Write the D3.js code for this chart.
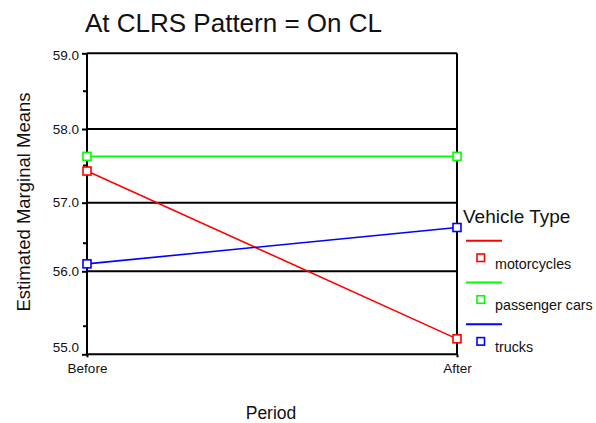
<!DOCTYPE html>
<html><head><meta charset="utf-8">
<script src="https://cdn.jsdelivr.net/npm/d3@7"></script>
<style>body{margin:0;background:#fff}svg{display:block;font-family:"Liberation Sans",Arial,sans-serif}</style>
</head><body>
<script>
const periods = ["Before", "After"];
const vehicleTypes = ["motorcycles", "passenger cars", "trucks"];
const motorcycles = [57.42, 55.27];
const passengerCars = [57.62, 57.62];
const trucks = [56.13, 56.69];
const colors = ["#ff0000", "#00ff00", "#0000ff"];
const majorTicks = [55, 56, 57, 58, 59];
const minorTicks = [55.5, 56.5, 57.5, 58.5];
const title = "At CLRS Pattern = On CL";
const yTitle = "Estimated Marginal Means";
const xTitle = "Period";
const legendTitle = "Vehicle Type";

const series = [motorcycles, passengerCars, trucks];
const FONT = "'Liberation Sans', Arial, sans-serif";

const W = 596, H = 423;
const svg = d3.select("body").append("svg").attr("width", W).attr("height", H);

const x = d3.scalePoint().domain(periods).range([87, 457]);
// axis as drawn in the reference is not evenly spaced: piecewise-linear scale
const y = d3.scaleLinear()
  .domain([55, 55.5, 56, 56.5, 57, 57.5, 58, 58.5, 59])
  .range([354.3, 325.7, 271.3, 242.7, 202.7, 165, 129, 90.7, 53.3]);

// title
svg.append("text").attr("x", 85).attr("y", 31.5).attr("font-size", 26).attr("fill", "#111").text(title);

// gridlines
svg.append("g").selectAll("line").data(majorTicks.slice(1)).join("line")
  .attr("x1", 87).attr("x2", 457).attr("y1", d => y(d)).attr("y2", d => y(d))
  .attr("stroke", "#000").attr("stroke-width", 2);

// right border
svg.append("line").attr("x1", 457).attr("x2", 457).attr("y1", y(59)).attr("y2", y(55))
  .attr("stroke", "#000").attr("stroke-width", 2);

// left axis
const yAxis = d3.axisLeft(y).tickValues(majorTicks).tickFormat(d3.format(".1f")).tickSize(5).tickPadding(3);
const gy = svg.append("g").attr("transform", "translate(87,0)").call(yAxis);
gy.attr("font-family", FONT);
gy.select(".domain").attr("stroke-width", 2).attr("d", `M0,${y(59)}V${y(55)+1}`);
gy.selectAll(".tick line").attr("stroke-width", 2);
gy.selectAll(".tick text").attr("font-size", 13.5).attr("fill", "#111")
  .attr("dy", d => d === 55 ? "-0.18em" : (d === 59 ? "0.45em" : "0.3em"));
const gyMinor = d3.axisLeft(y).tickValues(minorTicks).tickFormat("").tickSize(4);
const gm = svg.append("g").attr("transform", "translate(87,0)").call(gyMinor);
gm.select(".domain").remove();
gm.selectAll(".tick line").attr("stroke-width", 2);

// bottom axis
const xAxis = d3.axisBottom(x).tickSize(3).tickPadding(6);
const gx = svg.append("g").attr("transform", `translate(0,${y(55)})`).call(xAxis);
gx.attr("font-family", FONT);
gx.select(".domain").attr("stroke-width", 2).attr("d", "M86,0H458");
gx.selectAll(".tick line").attr("stroke-width", 2);
gx.selectAll(".tick text").attr("font-size", 13.5).attr("fill", "#111");

// axis titles
svg.append("text").attr("transform", "translate(30,202) rotate(-90)").attr("text-anchor", "middle")
  .attr("font-size", 18.5).attr("fill", "#111").text(yTitle);
svg.append("text").attr("x", 271).attr("y", 419).attr("text-anchor", "middle")
  .attr("font-size", 17.5).attr("fill", "#111").text(xTitle);

// lines
const line = d3.line().x((d, i) => x(periods[i])).y(d => y(d));
svg.append("g").selectAll("path").data(series).join("path")
  .attr("d", d => line(d)).attr("fill", "none")
  .attr("stroke", (d, i) => colors[i]).attr("stroke-width", 1.6);

// markers
series.forEach((s, si) => {
  svg.append("g").selectAll("rect").data(s).join("rect")
    .attr("x", (d, i) => x(periods[i]) - 4).attr("y", d => y(d) - 4)
    .attr("width", 8).attr("height", 8)
    .attr("fill", "#fff").attr("stroke", colors[si]).attr("stroke-width", 1.6);
});

// legend
svg.append("text").attr("x", 463).attr("y", 222.5).attr("font-size", 19).attr("fill", "#111").text(legendTitle);
const lg = svg.append("g").selectAll("g").data(vehicleTypes).join("g")
  .attr("transform", (d, i) => `translate(0,${i * 41.8})`);
lg.append("line").attr("x1", 466).attr("x2", 502).attr("y1", 240.7).attr("y2", 240.7)
  .attr("stroke", (d, i) => colors[i]).attr("stroke-width", 2);
lg.append("rect").attr("x", 477).attr("y", 254).attr("width", 7.5).attr("height", 7.5)
  .attr("fill", "#fff").attr("stroke", (d, i) => colors[i]).attr("stroke-width", 1.6);
lg.append("text").attr("x", 495).attr("y", 268.5).attr("font-size", 14.3).attr("fill", "#111").text(d => d);
</script>
</body></html>
